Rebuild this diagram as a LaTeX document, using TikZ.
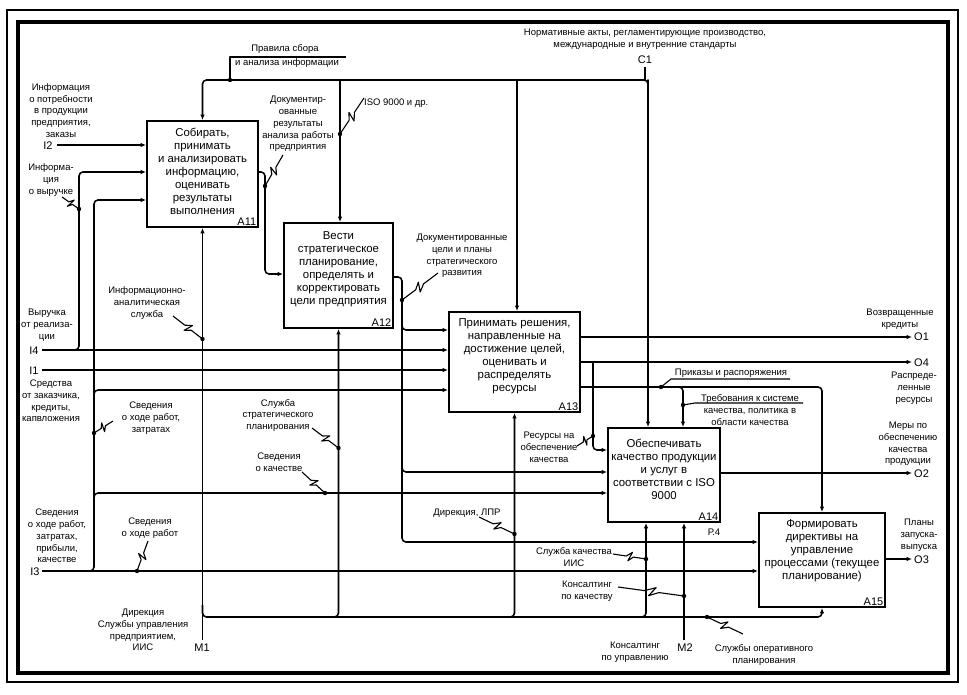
\documentclass[tikz,border=0pt]{standalone}
\usepackage{fontspec}
\setmainfont{Liberation Sans}
\usetikzlibrary{calc,arrows.meta}
\newcommand{\sqg}[2]{\draw[sqs] (#1) -- ($(#1)!0.40!(#2)$) -- ($(#1)!0.57!(#2)!4.5pt!90:(#2)$) -- ($(#1)!0.47!(#2)!4.5pt!-90:(#2)$) -- ($(#1)!0.62!(#2)$) -- (#2);\fill (#2) circle (2.2pt);}
\begin{document}
\begin{tikzpicture}[x=1pt,y=-1pt,
 ln/.style={line width=1.6pt, line join=round},
 arr/.style={ln,-{Latex[length=5.5pt,width=4.5pt]}},
 rc/.style={rounded corners=4pt},
 blk/.style={draw, line width=1.9pt, inner sep=0pt},
 btx/.style={align=center, font=\fontsize{11.4}{13}\selectfont, inner sep=0pt},
 bid/.style={font=\fontsize{11}{12}\selectfont, inner sep=0pt, anchor=south east},
 lbl/.style={align=center, font=\fontsize{9.5}{11.8}\selectfont, inner sep=0pt},
 io/.style={font=\fontsize{11}{12}\selectfont, inner sep=0pt},
 sqs/.style={line width=1.1pt, line join=round},
]
\useasboundingbox (0,0) rectangle (967,695);
\fill[white] (0,0) rectangle (967,695);
\draw[line width=2.6pt] (7,10) rectangle (958,682);
\draw[line width=3.6pt] (18,22) rectangle (948,673);

% boxes
\node[blk, minimum width=111pt, minimum height=106pt] (A11) at (202.5,174) {};
\node[blk, minimum width=109pt, minimum height=105pt] (A12) at (338.5,275.5) {};
\node[blk, minimum width=131pt, minimum height=100pt] (A13) at (514.5,362) {};
\node[blk, minimum width=112pt, minimum height=94pt] (A14) at (664,475) {};
\node[blk, minimum width=126pt, minimum height=94pt] (A15) at (822,560) {};

\node[btx] (A11t) at (202.5,171) {Собирать,\\принимать\\и анализировать\\информацию,\\оценивать\\результаты\\выполнения};
\node[btx] (A12t) at (338.5,269.5) {Вести\\стратегическое\\планирование,\\определять и\\корректировать\\цели предприятия};
\node[btx] (A13t) at (514.5,356.5) {Принимать решения,\\направленные на\\достижение целей,\\оценивать и\\распределять\\ресурсы};
\node[btx] (A14t) at (664,469) {Обеспечивать\\качество продукции\\и услуг в\\соответствии с ISO\\9000};
\node[btx] (A15t) at (822,551) {Формировать\\директивы на\\управление\\процессами (текущее\\планирование)};

\node[bid] (A11id) at ([shift={(-2.5pt,2.5pt)}]A11.south east) {A11};
\node[bid] (A12id) at ([shift={(-2.5pt,2.5pt)}]A12.south east) {A12};
\node[bid] (A13id) at ([shift={(-2.5pt,2.5pt)}]A13.south east) {A13};
\node[bid] (A14id) at ([shift={(-2.5pt,2.5pt)}]A14.south east) {A14};
\node[bid] (A15id) at ([shift={(-2.5pt,2.5pt)}]A15.south east) {A15};

% top control tree
\coordinate (c1) at (645,67);
\coordinate (c1j) at (645,80);
\coordinate (tr) at (648,84);
\coordinate (tA12) at (340,80);
\coordinate (tA13) at (517,80);
\draw[ln] (c1) -- (c1j);
\draw[arr,rc] (c1j) -- (648,80) -- (tr) -- (tr |- A14.north);
\draw[arr,rc] (c1j) -| (A11.north);
\draw[arr] (tA12) -- (tA12 |- A12.north);
\draw[arr] (tA13) -- (tA13 |- A13.north);
\coordinate (pr) at (230,80);
\draw[sqs] (pr) |- (346,57);
\fill (pr) circle (2.2pt);

% inputs
\coordinate (i2) at (57,145);
\draw[arr] (i2) -- (i2 -| A11.west);
\coordinate (i4) at (42,350);
\draw[arr] (i4) -- (i4 -| A13.west);
\coordinate (i1) at (42,370);
\draw[arr] (i1) -- (i1 -| A13.west);
\coordinate (i3) at (42,571);
\draw[arr] (i3) -- (i3 -| A15.west);
\coordinate (b4) at (79,172);
\draw[arr,rc] (70,350) -| (b4) -- (b4 -| A11.west);
\coordinate (b3) at (94,200);
\draw[arr,rc] (85,571) -| (b3) -- (b3 -| A11.west);
\coordinate (b3a) at (94,390);
\draw[arr,rc] (94,400) |- (b3a -| A13.west);
\coordinate (b3b) at (94,493);
\draw[arr,rc] (94,503) |- (b3b -| A14.west);

% A11 -> A12
\coordinate (o11) at (265,172);
\coordinate (i12) at (265,274);
\draw[arr,rc] (o11 -| A11.east) -- (o11) -- (i12) -- (i12 -| A12.west);

% A12 outputs
\coordinate (o12) at (402,277);
\coordinate (i15b) at (402,542);
\draw[arr,rc] (o12 -| A12.east) -- (o12) -- (i15b) -- (i15b -| A15.west);
\coordinate (i13a) at (402,330);
\draw[arr,rc] (402,322) |- (i13a -| A13.west);
\coordinate (i14b) at (402,472);
\draw[arr,rc] (402,464) |- (i14b -| A14.west);

% mechanisms
\coordinate (m1) at (202.5,640);
\draw[arr] (m1) -- (A11.south);
\coordinate (mh) at (822,617);
\draw[arr,rc] (202.5,605) |- (mh) -- (A15.south);
\draw[arr,rc] (330,617) -| (A12.south);
\draw[arr,rc] (506,617) -| (A13.south);
\draw[arr,rc] (638,617) -| ([xshift=-18pt]A14.south);
\coordinate (m2) at (684,640);
\draw[arr] (m2) -- (m2 |- A14.south);

% A13 outputs
\coordinate (o1) at (912,337);
\draw[arr] (o1 -| A13.east) -- (o1);
\coordinate (o4) at (912,362);
\draw[arr] (o4 -| A13.east) -- (o4);
\coordinate (r1) at (593,362);
\coordinate (r2) at (593,450);
\draw[arr,rc] (r1) -- (r2) -- (r2 -| A14.west);
\coordinate (q1) at (822,387);
\draw[arr,rc] (q1 -| A13.east) -- (q1) -- (A15.north);
\coordinate (a14c) at (683,387);
\draw[arr,rc] (675,387) -| (a14c |- A14.north);

% other outputs
\coordinate (o2) at (912,473);
\draw[arr] (o2 -| A14.east) -- (o2);
\coordinate (o3) at (912,559);
\draw[arr] (o3 -| A15.east) -- (o3);

% squiggles
\coordinate (s1a) at (364,98);   \coordinate (s1b) at (340,134);   \sqg{s1a}{s1b}
\coordinate (s2a) at (283,155);  \coordinate (s2b) at (265,186);   \sqg{s2a}{s2b}
\coordinate (s3a) at (62,197);   \coordinate (s3b) at (79,209);    \sqg{s3a}{s3b}
\coordinate (s4a) at (173,316);  \coordinate (s4b) at (202.5,339); \sqg{s4a}{s4b}
\coordinate (s5a) at (113,421);  \coordinate (s5b) at (94,433);    \sqg{s5a}{s5b}
\coordinate (s6a) at (312,428);  \coordinate (s6b) at (338.5,448); \sqg{s6a}{s6b}
\coordinate (s7a) at (302,472);  \coordinate (s7b) at (325,493);   \sqg{s7a}{s7b}
\coordinate (s8a) at (148,541);  \coordinate (s8b) at (137,571);   \sqg{s8a}{s8b}
\coordinate (s9a) at (438,273);  \coordinate (s9b) at (402,300);   \sqg{s9a}{s9b}
\coordinate (s10a) at (577,446); \coordinate (s10b) at (593,436);  \sqg{s10a}{s10b}
\coordinate (s11a) at (479,517); \coordinate (s11b) at (514.5,534);\sqg{s11a}{s11b}
\coordinate (s12a) at (613,554); \coordinate (s12b) at (646,559);  \sqg{s12a}{s12b}
\coordinate (s13a) at (618,587); \coordinate (s13b) at (684,596);  \sqg{s13a}{s13b}
\coordinate (s14a) at (743,634); \coordinate (s14b) at (707,617);  \sqg{s14a}{s14b}

% leaders
\coordinate (pk) at (661,387);
\draw[sqs] (pk) -- (671,379) -- (790,379);
\fill (pk) circle (2.2pt);
\coordinate (tq) at (683,405);
\draw[sqs] (tq) -- (695,403) -- (803,403);
\fill (tq) circle (2.2pt);

% labels
\node[lbl] (lc1) at (645,39.5) {Нормативные акты, регламентирующие производство,\\международные и внутренние стандарты};
\node[io] (nc1) at (645,60) {C1};
\node[lbl] (lpr1) at (285,49) {Правила сбора};
\node[lbl] (lpr2) at (287,63) {и анализа информации};
\node[lbl, anchor=west] (liso) at (364,103) {ISO 9000 и др.};
\node[lbl] (ldoc) at (298,124) {Документир-\\ованные\\результаты\\анализа работы\\предприятия};
\node[lbl] (li2) at (61,110.5) {Информация\\о потребности\\в продукции\\предприятия,\\заказы};
\node[io] (ni2) at (48,146) {I2};
\node[lbl] (lvyr) at (51,180) {Информа-\\ция\\о выручке};
\node[lbl] (li4) at (47,325) {Выручка\\от реализа-\\ции};
\node[io] (ni4) at (34,351) {I4};
\node[io] (ni1) at (34,371) {I1};
\node[lbl] (li1) at (51,401) {Средства\\от заказчика,\\кредиты,\\капвложения};
\node[lbl] (li3) at (57,536) {Сведения\\о ходе работ,\\затратах,\\прибыли,\\качестве};
\node[io] (ni3) at (35,572) {I3};
\node[lbl] (ls8) at (150,528) {Сведения\\о ходе работ};
\node[lbl] (ls5) at (151,418) {Сведения\\о ходе работ,\\затратах};
\node[lbl] (ls4) at (147,303) {Информационно-\\аналитическая\\служба};
\node[lbl] (ls6) at (278,415.5) {Служба\\стратегического\\планирования};
\node[lbl] (ls7) at (279,462) {Сведения\\о качестве};
\node[lbl] (lm1) at (143,630) {Дирекция\\Службы управления\\предприятием,\\ИИС};
\node[io] (nm1) at (202,648) {M1};
\node[lbl] (ls9) at (462,256) {Документированные\\цели и планы\\стратегического\\развития};
\node[lbl] (ls10) at (549,447) {Ресурсы на\\обеспечение\\качества};
\node[lbl] (lpk) at (731,373) {Приказы и распоряжения};
\node[lbl] (ltq) at (750,410) {Требования к системе\\качества, политика в\\области качества};
\node[lbl] (ls11) at (467,513) {Дирекция, ЛПР};
\node[lbl] (ls12) at (574,557) {Служба качества\\ИИС};
\node[lbl] (ls13) at (587,591) {Консалтинг\\по качеству};
\node[lbl] (lm2) at (635,652) {Консалтинг\\по управлению};
\node[io] (nm2) at (685,648) {M2};
\node[lbl] (ls14) at (764,655) {Службы оперативного\\планирования};
\node[lbl] (lp4) at (714,532) {Р.4};
\node[lbl] (lo1) at (900,319) {Возвращенные\\кредиты};
\node[io, anchor=west] (no1) at (914,337) {O1};
\node[io, anchor=west] (no4) at (914,363) {O4};
\node[lbl] (lo4) at (914,388) {Распреде-\\ленные\\ресурсы};
\node[lbl] (lo2) at (908,444) {Меры по\\обеспечению\\качества\\продукции};
\node[io, anchor=west] (no2) at (914,474) {O2};
\node[lbl] (lo3) at (919,535) {Планы\\запуска-\\выпуска};
\node[io, anchor=west] (no3) at (914,560) {O3};
\end{tikzpicture}
\end{document}
